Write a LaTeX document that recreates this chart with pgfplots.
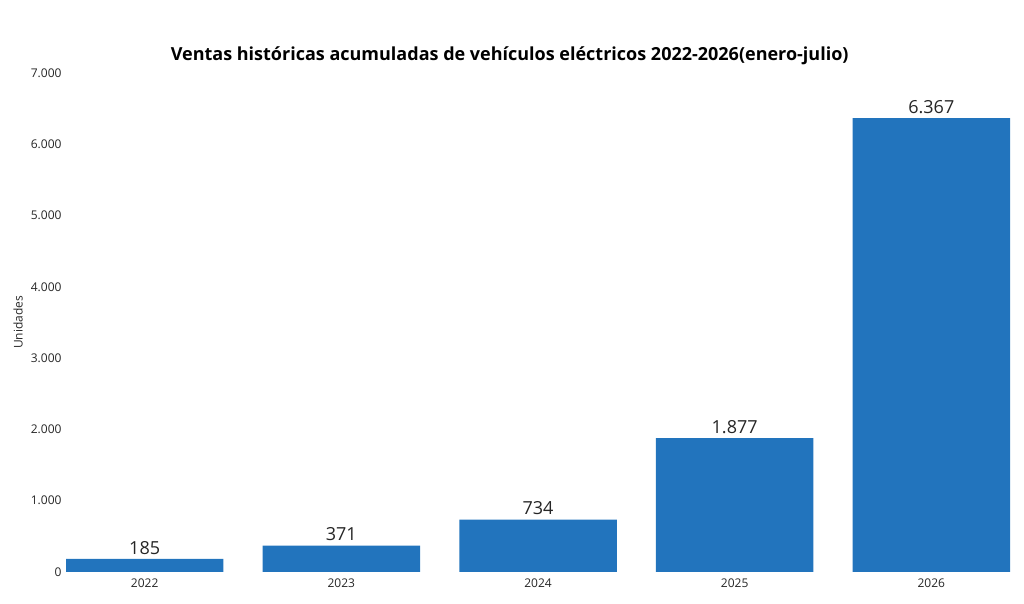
\documentclass[border=0pt]{standalone}
\usepackage{pgfplots}
\pgfplotsset{compat=1.18}
\usepackage{fontspec}
\setmainfont{Open Sans}
\definecolor{barblue}{HTML}{2274BD}
\begin{document}
\begin{tikzpicture}[x=1bp,y=1bp]
\path[use as bounding box] (0,0) rectangle (1024,604);
\begin{axis}[
  at={(66bp,32bp)}, anchor=south west,
  scale only axis, width=944bp, height=499bp,
  xmin=-0.4, xmax=4.4, ymin=0, ymax=7000,
  axis line style={draw=none},
  tick style={draw=none},
  xtick={0,1,2,3,4},
  xticklabels={2022,2023,2024,2025,2026},
  ytick={0,1000,2000,3000,4000,5000,6000,7000},
  /pgf/number format/assume math mode=true,
  /pgf/number format/.cd, 1000 sep={.}, /pgfplots/.cd,
  ticklabel style={font=\fontsize{12bp}{14bp}\selectfont, text=black!85},
  xticklabel style={yshift=1bp},
  yticklabel style={xshift=-1bp},
  ylabel={Unidades},
  every axis y label/.style={at={(rel axis cs:0,0.5)}, rotate=90, anchor=center, yshift=48bp, font=\fontsize{12bp}{14bp}\selectfont, text=black!85},
  title={\bfseries Ventas históricas acumuladas de vehículos eléctricos 2022-2026(enero-julio)},
  title style={font=\fontsize{18bp}{21bp}\selectfont, at={(0.47,1)}, yshift=-1bp},
  ybar, bar width=157.5bp,
  nodes near coords,
  nodes near coords style={font=\fontsize{18bp}{20bp}\selectfont, text=black!85, /pgf/number format/1000 sep={.}, yshift=1bp},
]
\addplot[fill=barblue, draw=none] coordinates {(0,185) (1,371) (2,734) (3,1877) (4,6367)};
\end{axis}
\end{tikzpicture}
\end{document}
